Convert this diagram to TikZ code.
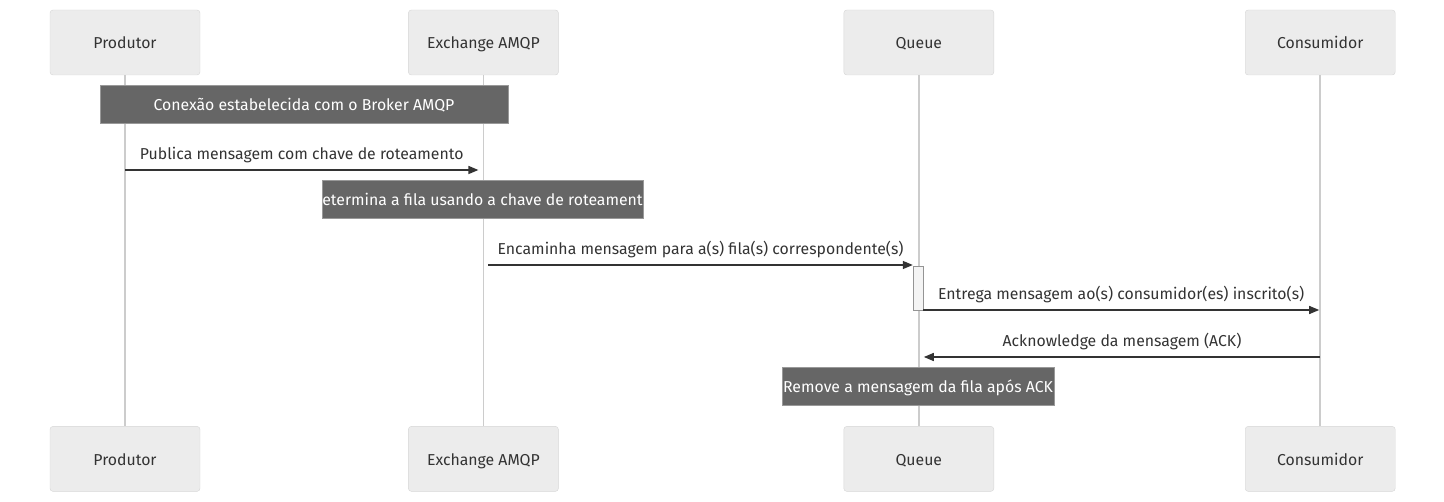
\documentclass[tikz,border=0pt]{standalone}
\usepackage{fontspec}
\setmainfont{Fira Sans}
\usetikzlibrary{positioning, arrows.meta}
\definecolor{actorfill}{HTML}{ECECEC}
\definecolor{actorline}{HTML}{D6D6D6}
\definecolor{notefill}{HTML}{666666}
\definecolor{notedraw}{HTML}{999999}
\definecolor{txt}{HTML}{333333}
\definecolor{lifeline}{HTML}{CCCCCC}
\definecolor{actfill}{HTML}{F4F4F4}
\newcommand{\fsz}{\fontsize{15.8}{18}\selectfont}
\tikzstyle{actor} = [rectangle, rounded corners=3pt, minimum width=150pt, minimum height=65pt, text height=15pt, text depth=2pt, text centered, draw=actorline, fill=actorfill, text=txt, font=\fsz]
\tikzstyle{note} = [rectangle, minimum height=38pt, inner xsep=0pt, text height=15pt, text depth=2pt, text centered, draw=notedraw, fill=notefill, text=white, font=\fsz]
\tikzstyle{activation} = [rectangle, minimum width=10pt, minimum height=44pt, draw=notefill!70, fill=actfill]
\tikzstyle{lane} = [draw=lifeline, line width=1.5pt]
\tikzstyle{arrow} = [draw=txt, line width=1.5pt, -{Triangle[length=10pt,width=8pt]}]
\tikzstyle{msgtext} = [text=txt, font=\fsz, above=3pt]

\begin{document}
\begin{tikzpicture}[x=1pt, y=-1pt]
    \useasboundingbox (0,0) rectangle (1444,502);
    % actors
    \node (prod) [actor] at (125,42.5) {Produtor};
    \node (exch) [actor, right=208pt of prod] {Exchange AMQP};
    \node (queue) [actor, right=285pt of exch] {Queue};
    \node (cons) [actor, right=251pt of queue] {Consumidor};
    \node (prodb) [actor, below=351pt of prod] {Produtor};
    \node (exchb) [actor, below=351pt of exch] {Exchange AMQP};
    \node (queueb) [actor, below=351pt of queue] {Queue};
    \node (consb) [actor, below=351pt of cons] {Consumidor};
    % lifelines
    \draw [lane] (prod)--(prodb);
    \draw [lane] (exch)--(exchb);
    \draw [lane] (queue)--(queueb);
    \draw [lane] (cons)--(consb);
    \node (act) [activation] at (918,288) {};
    % notes
    \node (note1) [note, minimum width=408pt] at (304,104) {Conexão estabelecida com o Broker AMQP};
    \node (note2) [note, minimum width=321pt] at (482.5,199) {etermina a fila usando a chave de roteament};
    \node (note3) [note, minimum width=272pt] at (918,386) {Remove a mensagem da fila após ACK};
    % messages
    \coordinate (y1) at (0,170);
    \coordinate (y2) at (0,265);
    \coordinate (y3) at (0,310);
    \coordinate (y4) at (0,357);
    \draw [arrow] (prod |- y1)--([xshift=-5pt]exch |- y1) node[midway, msgtext] {Publica mensagem com chave de roteamento};
    \draw [arrow] ([xshift=5pt]exch |- y2)--(act.west |- y2) node[midway, msgtext] {Encaminha mensagem para a(s) fila(s) correspondente(s)};
    \draw [arrow] (act.east |- y3)--([xshift=-1pt]cons |- y3) node[midway, msgtext] {Entrega mensagem ao(s) consumidor(es) inscrito(s)};
    \draw [arrow] (cons |- y4)--([xshift=5pt]queue |- y4) node[midway, msgtext] {Acknowledge da mensagem (ACK)};
\end{tikzpicture}
\end{document}
